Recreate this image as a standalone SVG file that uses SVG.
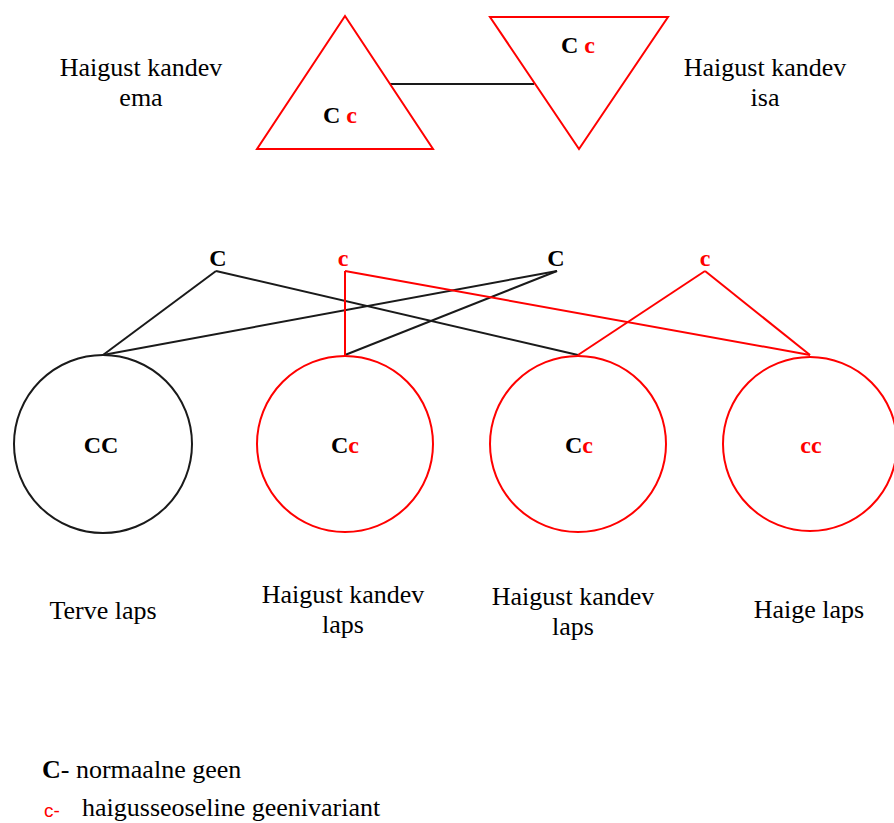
<svg xmlns="http://www.w3.org/2000/svg" width="894" height="823" viewBox="0 0 894 823">
<style>
text{font-family:"Liberation Serif","Times New Roman",serif;font-size:26px;fill:#000}
.g{font-weight:bold;font-size:24px}
.r{fill:#ff0000}
.shape{fill:none;stroke-width:2}
.red{stroke:#ff0000}
.blk{stroke:#1a1a1a}
.mid{text-anchor:middle}
</style>
<rect width="894" height="823" fill="#fff"/>
<g id="connectors" fill="none" stroke-width="2">
<line class="blk" x1="390" y1="84" x2="534" y2="84"/>
<line class="blk" x1="216" y1="271" x2="103" y2="355"/>
<line class="blk" x1="216" y1="271" x2="578" y2="355"/>
<line class="blk" x1="557" y1="271" x2="103" y2="355"/>
<line class="blk" x1="557" y1="271" x2="345" y2="355"/>
<line class="red" x1="345" y1="271" x2="345" y2="355"/>
<line class="red" x1="345" y1="271" x2="810" y2="355"/>
<line class="red" x1="705" y1="271" x2="578" y2="355"/>
<line class="red" x1="705" y1="271" x2="810" y2="355"/>
</g>
<g id="mother">
<polygon class="shape red" points="345,16 257,149 433,149"/>
<text class="g" x="323" y="123">C <tspan class="r">c</tspan></text>
</g>
<g id="father">
<polygon class="shape red" points="490,17 668,17 579,149"/>
<text class="g" x="561" y="53">C <tspan class="r">c</tspan></text>
</g>
<g id="label-mother">
<text class="mid" x="141" y="76">Haigust kandev</text>
<text class="mid" x="141" y="106">ema</text>
</g>
<g id="label-father">
<text class="mid" x="765" y="76">Haigust kandev</text>
<text class="mid" x="765" y="106">isa</text>
</g>
<g id="gametes">
<text class="g mid" x="218" y="266">C</text>
<text class="g mid r" x="343" y="266">c</text>
<text class="g mid" x="556" y="266">C</text>
<text class="g mid r" x="705" y="266">c</text>
</g>
<g id="child1">
<circle class="shape blk" cx="103" cy="444" r="89"/>
<text class="g mid" x="101" y="453">CC</text>
<text class="mid" x="103" y="619">Terve laps</text>
</g>
<g id="child2">
<circle class="shape red" cx="345" cy="444" r="88"/>
<text class="g mid" x="345" y="453">C<tspan class="r">c</tspan></text>
<text class="mid" x="343" y="603">Haigust kandev</text>
<text class="mid" x="343" y="633">laps</text>
</g>
<g id="child3">
<circle class="shape red" cx="578" cy="444" r="88"/>
<text class="g mid" x="579" y="453">C<tspan class="r">c</tspan></text>
<text class="mid" x="573" y="605">Haigust kandev</text>
<text class="mid" x="573" y="635">laps</text>
</g>
<g id="child4">
<circle class="shape red" cx="810" cy="444" r="87"/>
<text class="g mid r" x="811" y="453">cc</text>
<text class="mid" x="809" y="618">Haige laps</text>
</g>
<g id="legend">
<text x="42" y="778"><tspan font-weight="bold">C</tspan>- normaalne geen</text>
<text x="44" y="817" style="font-family:'Liberation Sans',Arial,sans-serif;font-size:19px" class="r">c-</text>
<text x="82" y="816">haigusseoseline geenivariant</text>
</g>
</svg>
